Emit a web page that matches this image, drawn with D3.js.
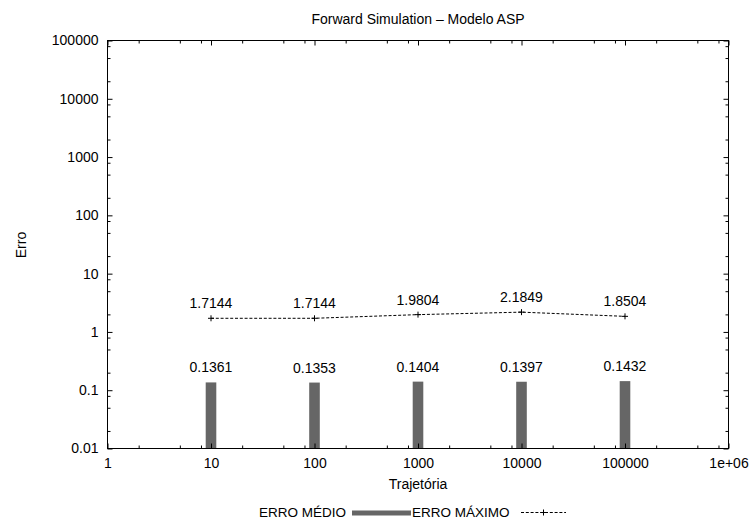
<!DOCTYPE html>
<html>
<head>
<meta charset="utf-8">
<script src="https://cdn.jsdelivr.net/npm/d3@7"></script>
<style>
  html, body { margin: 0; padding: 0; background: #fff; }
  svg { display: block; font-family: "Liberation Sans", Arial, Helvetica, sans-serif; }
  .axis path, .axis line { stroke: #000; }
  .axis text { fill: #000; font-size: 14px; font-family: "Liberation Sans", Arial, Helvetica, sans-serif; }
</style>
</head>
<body>
<svg id="chart" width="752" height="522"></svg>
<script>
// Number of trajectories simulated and the resulting errors
const trajetorias = [10, 100, 1000, 10000, 100000];
const erroMedio   = [0.1361, 0.1353, 0.1404, 0.1397, 0.1432];
const erroMaximo  = [1.7144, 1.7144, 1.9804, 2.1849, 1.8504];

// Axis ticks and their labels
const xTicks      = [1, 10, 100, 1000, 10000, 100000, 1000000];
const xTickLabels = ["1", "10", "100", "1000", "10000", "100000", "1e+06"];
const yTicks      = [0.01, 0.1, 1, 10, 100, 1000, 10000, 100000];
const yTickLabels = ["0.01", "0.1", "1", "10", "100", "1000", "10000", "100000"];
const minorSteps  = [2, 5, 8];

const titulo = "Forward Simulation \u2013 Modelo ASP";
const xTitulo = "Trajet\u00f3ria";
const yTitulo = "Erro";
const legendaMedio = "ERRO M\u00c9DIO";
const legendaMaximo = "ERRO M\u00c1XIMO";

const svg = d3.select("#chart");
const plotL = 107.5, plotR = 728.5, plotT = 40.5, plotB = 448.5;

const x = d3.scaleLog().domain([1, 1e6]).range([plotL, plotR]);
const y = d3.scaleLog().domain([0.01, 1e5]).range([plotB, plotT]);

// minor tick positions inside each decade
function minors(ticks) {
  const out = [];
  for (let i = 0; i < ticks.length - 1; i++) minorSteps.forEach(m => out.push(ticks[i] * m));
  return out;
}
const xMinor = minors(xTicks);
const yMinor = minors(yTicks);

const fmt = (ticks, labels) => d => labels[ticks.indexOf(d)];

// bars (drawn first so the frame sits on top)
const barW = 10.6;
svg.append("g").selectAll("rect").data(trajetorias).join("rect")
  .attr("x", (d) => x(d) - barW / 2)
  .attr("y", (d, i) => y(erroMedio[i]))
  .attr("width", barW)
  .attr("height", (d, i) => y(0.01) - y(erroMedio[i]))
  .attr("fill", "#666666");

// axes: major ticks with labels, minor ticks without, all pointing inward
function addAxis(gen, transform, scale, majors, minorsArr, labels, pad) {
  const g = svg.append("g").attr("class", "axis").attr("transform", transform);
  g.call(gen(scale).tickValues(majors).tickSize(-5).tickPadding(pad)
    .tickFormat(labels ? fmt(majors, labels) : () => ""));
  g.select(".domain").remove();
  const m = svg.append("g").attr("class", "axis").attr("transform", transform);
  m.call(gen(scale).tickValues(minorsArr).tickSize(-3).tickFormat(() => ""));
  m.select(".domain").remove();
  return g;
}
addAxis(d3.axisBottom, `translate(0,${plotB})`, x, xTicks, xMinor, xTickLabels, 10);
addAxis(d3.axisTop, `translate(0,${plotT})`, x, xTicks, xMinor, null, 3);
addAxis(d3.axisLeft, `translate(${plotL},0)`, y, yTicks, yMinor, yTickLabels, 9);
addAxis(d3.axisRight, `translate(${plotR},0)`, y, yTicks, yMinor, null, 3);

// frame
svg.append("rect")
  .attr("x", plotL).attr("y", plotT)
  .attr("width", plotR - plotL).attr("height", plotB - plotT)
  .attr("fill", "none").attr("stroke", "#000").attr("stroke-width", 1);

// maximum-error line with + markers
const line = d3.line().x((d) => x(d[0])).y((d) => y(d[1]));
const ptsMax = trajetorias.map((t, i) => [t, erroMaximo[i]]);
svg.append("path").datum(ptsMax)
  .attr("d", line).attr("fill", "none")
  .attr("stroke", "#000").attr("stroke-width", 1)
  .attr("stroke-dasharray", "3,1.8");

function plus(g, cx, cy, r) {
  g.append("path")
    .attr("d", `M${cx - r},${cy}H${cx + r}M${cx},${cy - r}V${cy + r}`)
    .attr("stroke", "#000").attr("stroke-width", 1).attr("fill", "none");
}
const marks = svg.append("g");
ptsMax.forEach(p => plus(marks, x(p[0]), y(p[1]), 3));

// value labels
const lbl = svg.append("g").attr("font-size", 14).attr("text-anchor", "middle").attr("fill", "#000");
lbl.selectAll("text.max").data(ptsMax).join("text").attr("class", "max")
  .attr("x", (d) => x(d[0])).attr("y", (d) => y(d[1]) - 10)
  .text((d) => d[1].toFixed(4));
lbl.selectAll("text.med").data(trajetorias).join("text").attr("class", "med")
  .attr("x", (d) => x(d)).attr("y", (d, i) => y(erroMedio[i]) - 10)
  .text((d, i) => erroMedio[i].toFixed(4));

// titles
svg.append("text").attr("x", (plotL + plotR) / 2).attr("y", 24)
  .attr("text-anchor", "middle").attr("font-size", 14).text(titulo);
svg.append("text").attr("x", (plotL + plotR) / 2).attr("y", 489)
  .attr("text-anchor", "middle").attr("font-size", 14).text(xTitulo);
svg.append("text").attr("transform", "translate(26,245) rotate(-90)")
  .attr("text-anchor", "middle").attr("font-size", 14).text(yTitulo);

// legend
const leg = svg.append("g").attr("font-size", 13.5);
leg.append("text").attr("x", 346).attr("y", 517).attr("text-anchor", "end").text(legendaMedio);
leg.append("rect").attr("x", 352).attr("y", 510.5).attr("width", 59).attr("height", 5).attr("fill", "#666666");
leg.append("text").attr("x", 412).attr("y", 517).attr("text-anchor", "start").text(legendaMaximo);
leg.append("path").attr("d", "M521,512.5H566").attr("stroke", "#000")
  .attr("stroke-width", 1).attr("stroke-dasharray", "3,1.8");
plus(leg, 543.5, 512.5, 3);
</script>
</body>
</html>
